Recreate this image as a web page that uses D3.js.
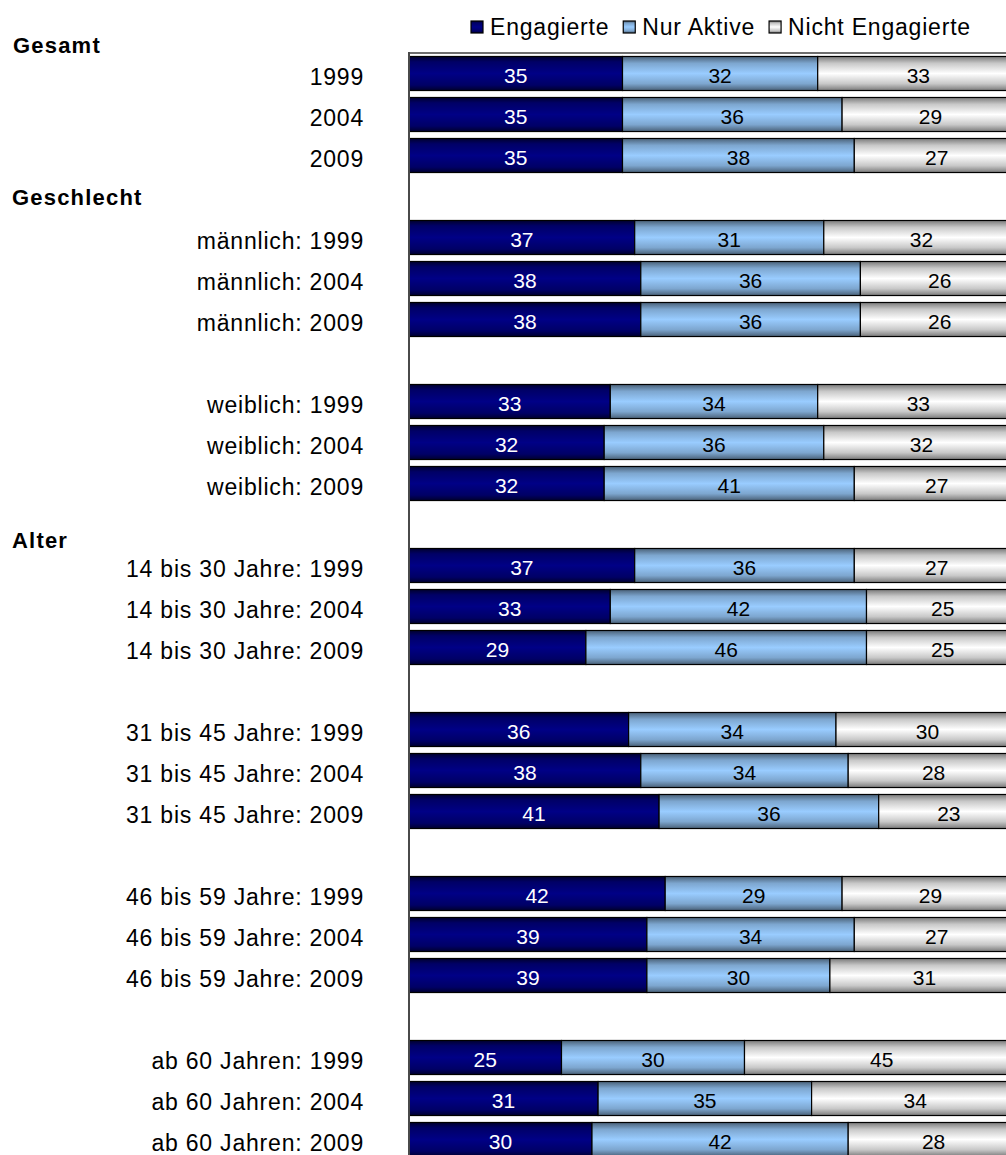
<!DOCTYPE html>
<html>
<head>
<meta charset="utf-8">
<script src="https://cdn.jsdelivr.net/npm/d3@7"></script>
<style>
  html, body { margin: 0; padding: 0; background: #fff; overflow: hidden; }
  svg { display: block; font-family: "Liberation Sans", Arial, sans-serif; }
</style>
</head>
<body>
<svg id="chart" width="1006" height="1155"></svg>
<script>
// Row labels; empty strings are spacer rows between groups
const categories = [
  "1999", "2004", "2009", "",
  "männlich: 1999", "männlich: 2004", "männlich: 2009", "",
  "weiblich: 1999", "weiblich: 2004", "weiblich: 2009", "",
  "14 bis 30 Jahre: 1999", "14 bis 30 Jahre: 2004", "14 bis 30 Jahre: 2009", "",
  "31 bis 45 Jahre: 1999", "31 bis 45 Jahre: 2004", "31 bis 45 Jahre: 2009", "",
  "46 bis 59 Jahre: 1999", "46 bis 59 Jahre: 2004", "46 bis 59 Jahre: 2009", "",
  "ab 60 Jahren: 1999", "ab 60 Jahren: 2004", "ab 60 Jahren: 2009"
];

// Shares in percent per row (null = spacer row)
const engagierte = [35, 35, 35, null, 37, 38, 38, null, 33, 32, 32, null, 37, 33, 29, null, 36, 38, 41, null, 42, 39, 39, null, 25, 31, 30];
const nurAktive  = [32, 36, 38, null, 31, 36, 36, null, 34, 36, 41, null, 36, 42, 46, null, 34, 34, 36, null, 29, 34, 30, null, 30, 35, 42];
const nichtEngagierte = [33, 29, 27, null, 32, 26, 26, null, 33, 32, 27, null, 27, 25, 25, null, 30, 28, 23, null, 29, 27, 31, null, 45, 34, 28];

const seriesNames = ["Engagierte", "Nur Aktive", "Nicht Engagierte"];

// Group headings and the row they sit at
const groupHeaders = ["Gesamt", "Geschlecht", "Alter"];
const groupRows = [0, 3, 11];

const svg = d3.select("#chart");
const defs = svg.append("defs");

// Vertical shading for each series: darker edges, bright centre
const gradStops = [
  [["0", "#00002e"], ["0.16", "#000066"], ["0.5", "#000086"], ["0.84", "#000066"], ["1", "#00002e"]],
  [["0", "#4a6178"], ["0.2", "#7da6cf"], ["0.5", "#99ccff"], ["0.8", "#7da6cf"], ["1", "#4a6178"]],
  [["0", "#7a7a7a"], ["0.2", "#c8c8c8"], ["0.5", "#ffffff"], ["0.8", "#c8c8c8"], ["1", "#7a7a7a"]]
];
gradStops.forEach((stops, i) => {
  const g = defs.append("linearGradient")
    .attr("id", "grad" + i).attr("x1", 0).attr("y1", 0).attr("x2", 0).attr("y2", 1);
  stops.forEach(([o, c]) => g.append("stop").attr("offset", o).attr("stop-color", c));
});
const textColors = ["#ffffff", "#000000", "#000000"];

const plotLeft = 409, plotRight = 1019, plotTop = 53;
const rowStep = 41;

const x = d3.scaleLinear().domain([0, 100]).range([plotLeft, plotRight]);
const y = d3.scaleBand()
  .domain(d3.range(categories.length))
  .range([plotTop, plotTop + rowStep * categories.length])
  .paddingInner(0.17)
  .paddingOuter(0.085);
const mid = i => y(i) + y.bandwidth() / 2;

// Stack the three series
const table = categories.map((c, i) => ({
  idx: i, label: c,
  "Engagierte": engagierte[i], "Nur Aktive": nurAktive[i], "Nicht Engagierte": nichtEngagierte[i]
}));
const rowsWithData = table.filter(d => d["Engagierte"] != null);
const stacked = d3.stack().keys(seriesNames)(rowsWithData);

// Plot frame: top border
svg.append("line")
  .attr("x1", plotLeft).attr("x2", 1006).attr("y1", plotTop).attr("y2", plotTop)
  .attr("stroke", "#6e6e6e").attr("stroke-width", 2);

const layers = svg.append("g").selectAll("g")
  .data(stacked).join("g")
  .attr("fill", (d, i) => `url(#grad${i})`);

layers.selectAll("rect")
  .data(d => d).join("rect")
  .attr("x", d => x(d[0]))
  .attr("y", d => y(d.data.idx))
  .attr("width", d => x(d[1]) - x(d[0]))
  .attr("height", y.bandwidth())
  .attr("stroke", "#000").attr("stroke-width", 1.2);

// Value labels centred in each segment
stacked.forEach((layer, i) => {
  svg.append("g").selectAll("text")
    .data(layer).join("text")
    .attr("x", d => (x(d[0]) + x(d[1])) / 2)
    .attr("y", d => mid(d.data.idx) + 9.5)
    .attr("text-anchor", "middle")
    .attr("font-size", 21)
    .attr("fill", textColors[i])
    .text(d => d[1] - d[0]);
});

// Left axis line
svg.append("line")
  .attr("x1", plotLeft).attr("x2", plotLeft).attr("y1", plotTop - 1).attr("y2", 1155)
  .attr("stroke", "#4a4a4a").attr("stroke-width", 2);

// Category labels
svg.append("g").selectAll("text")
  .data(table.filter(d => d.label !== "")).join("text")
  .attr("x", 364)
  .attr("y", d => mid(d.idx) + 11)
  .attr("text-anchor", "end")
  .attr("font-size", 23)
  .attr("letter-spacing", 0.8)
  .attr("fill", "#000")
  .text(d => d.label);

// Group headings
const headerX = [13, 12, 12];
const headerDy = [-3.5, y.bandwidth() / 2 + 8, y.bandwidth() / 2 + 23.5];
svg.append("g").selectAll("text")
  .data(groupHeaders).join("text")
  .attr("x", (d, i) => headerX[i])
  .attr("y", (d, i) => y(groupRows[i]) + headerDy[i])
  .attr("font-size", 22)
  .attr("font-weight", "bold")
  .attr("letter-spacing", 1.2)
  .attr("fill", "#000")
  .text(d => d);

// Legend
const legend = svg.append("g").attr("transform", "translate(471,21)");
let lx = 0;
seriesNames.forEach((name, i) => {
  const item = legend.append("g").attr("transform", `translate(${lx},0)`);
  item.append("rect")
    .attr("width", 12).attr("height", 12)
    .attr("fill", `url(#grad${i})`)
    .attr("stroke", "#000").attr("stroke-width", 1.2);
  const t = item.append("text")
    .attr("x", 19).attr("y", 13.5)
    .attr("font-size", 23)
    .attr("letter-spacing", 0.8)
    .attr("fill", "#000")
    .text(name);
  lx += 19 + t.node().getComputedTextLength() + 14;
});
</script>
</body>
</html>
